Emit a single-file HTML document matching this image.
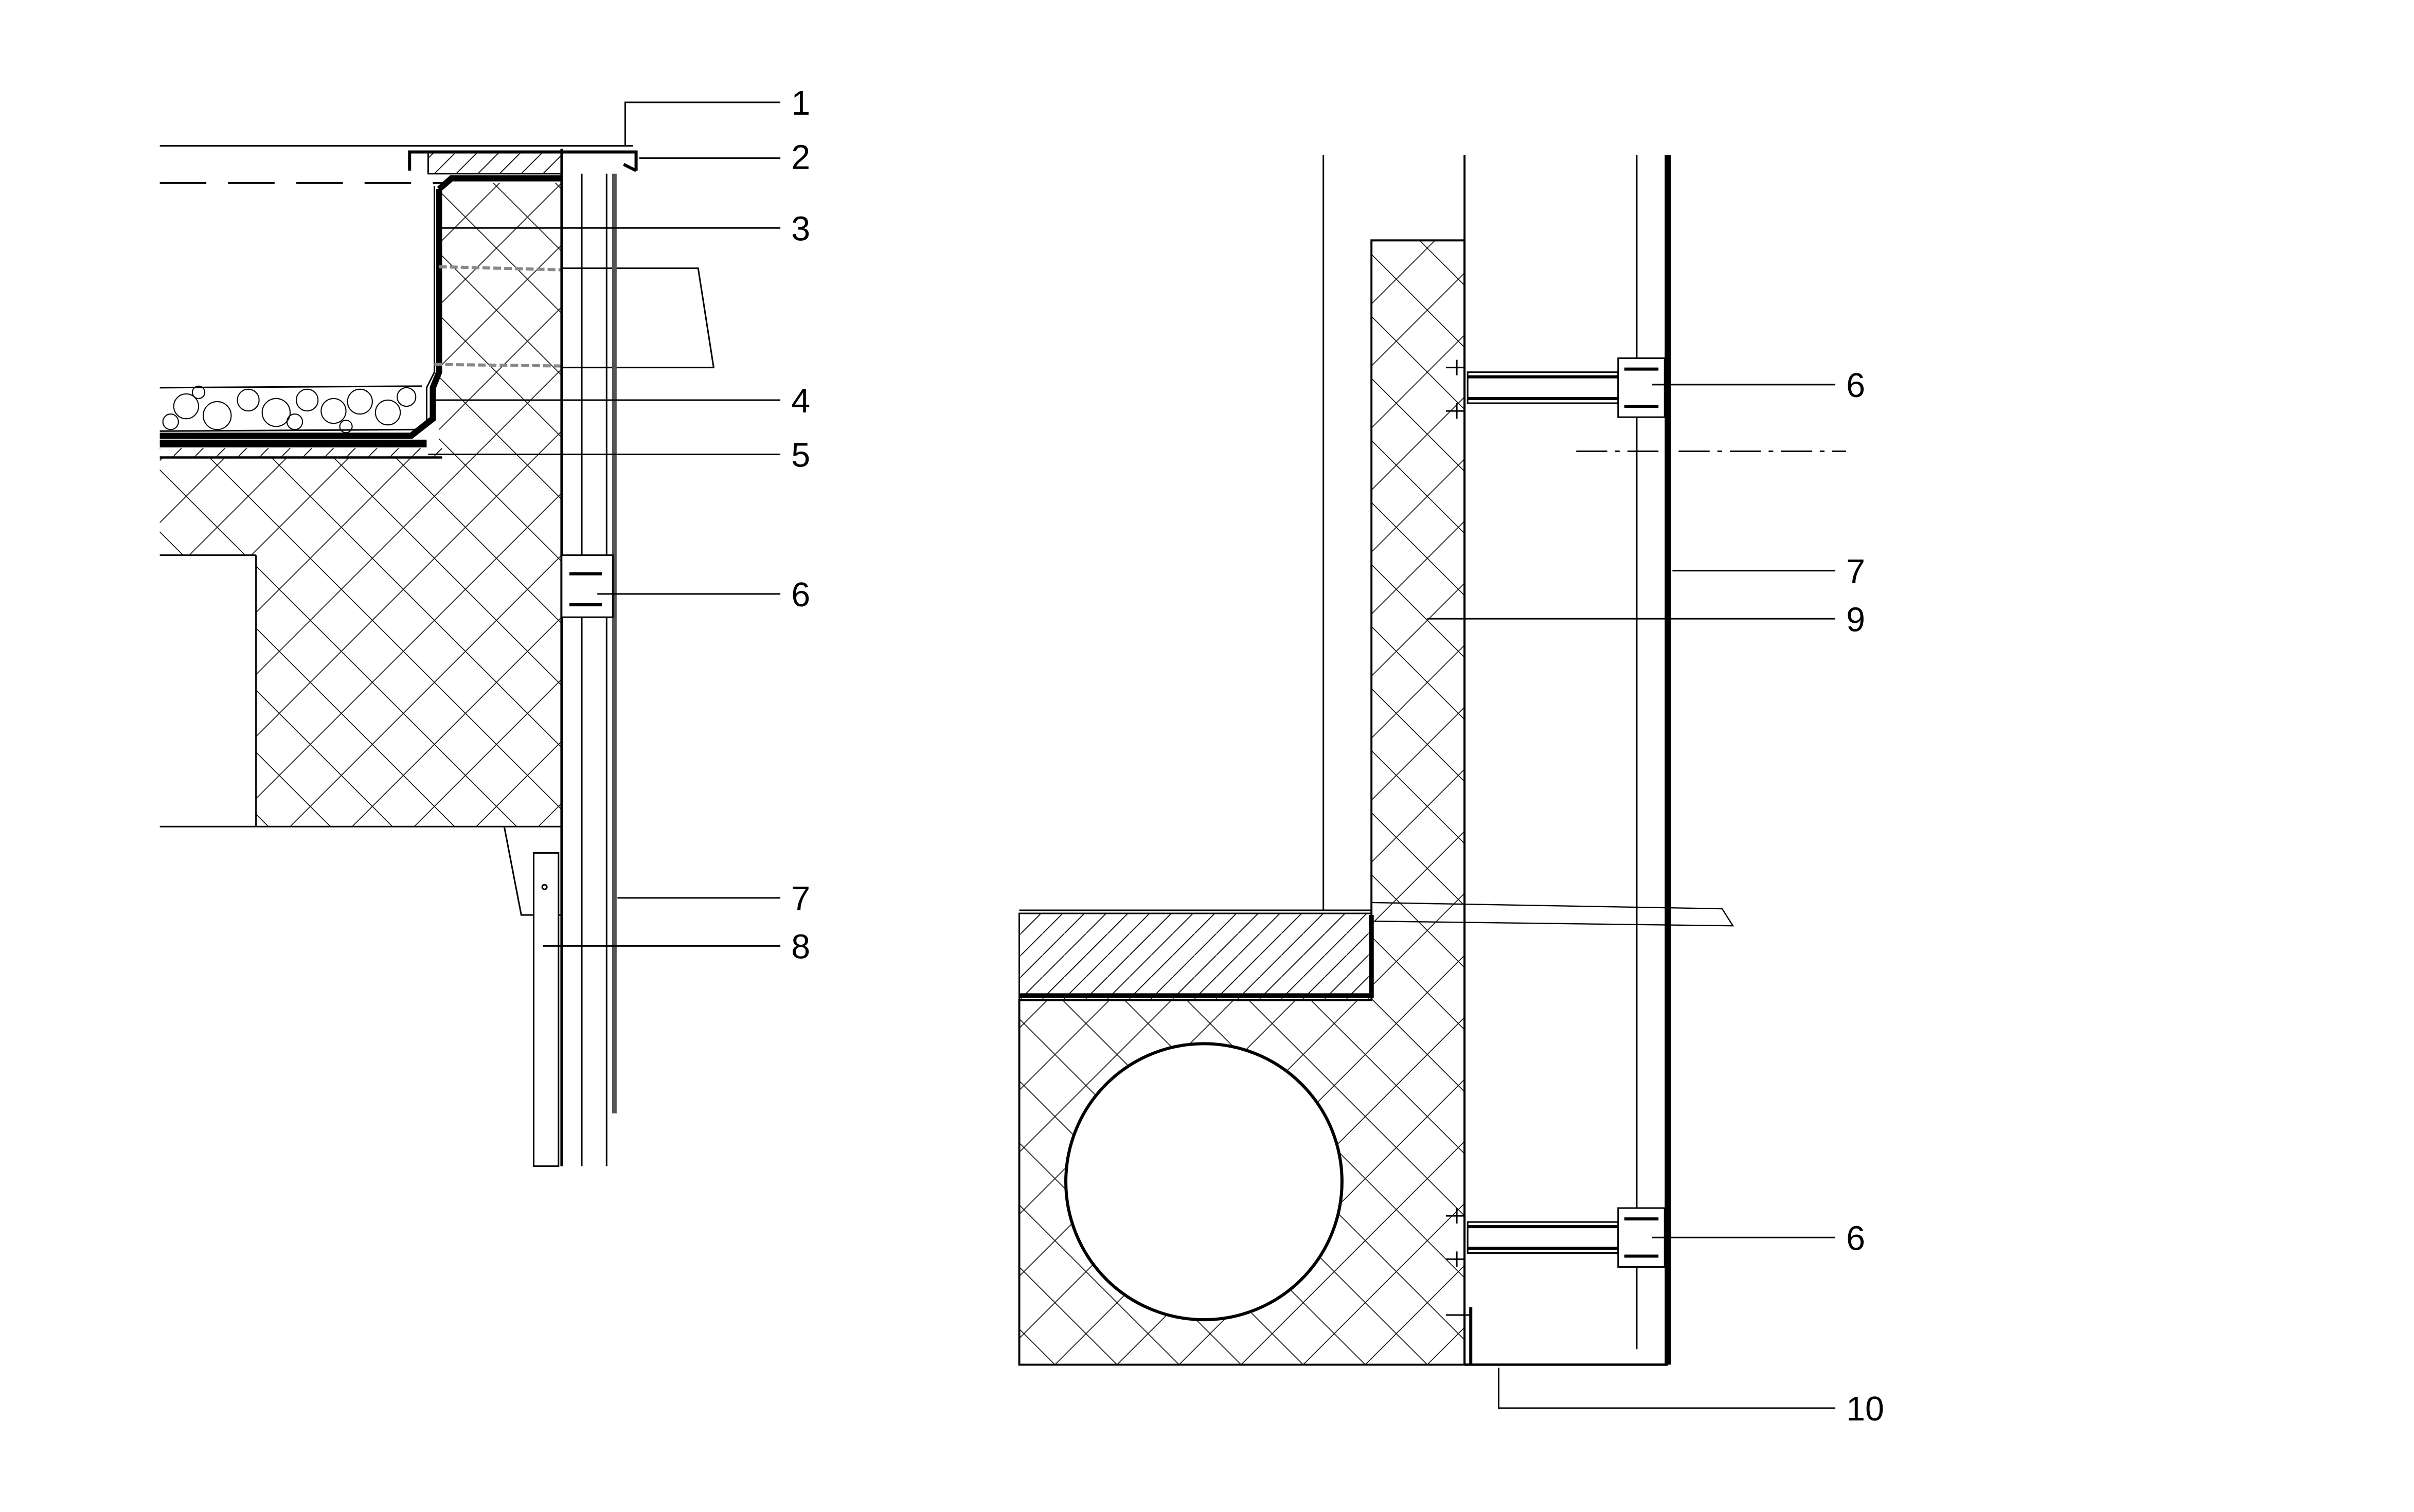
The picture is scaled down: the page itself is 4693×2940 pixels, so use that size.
<!DOCTYPE html>
<html><head><meta charset="utf-8"><style>
html,body{margin:0;padding:0;background:#fff;}
svg{display:block;}
text{font-family:"Liberation Sans Narrow","Liberation Sans",sans-serif;font-size:22px;fill:#000;}
</style></head><body>
<svg width="4693" height="2940" viewBox="0 0 1556 975" preserveAspectRatio="none" xmlns="http://www.w3.org/2000/svg">
<defs>
<pattern id="x" width="40" height="40" patternUnits="userSpaceOnUse">
<path d="M0 0L40 40M40 0L0 40" stroke="#000" stroke-width="0.5" fill="none"/>
</pattern>
<pattern id="d" width="14" height="14" patternUnits="userSpaceOnUse">
<path d="M0 14L14 0" stroke="#000" stroke-width="0.6"/>
</pattern>
</defs>
<rect width="1556" height="975" fill="#fff"/>
<g stroke="#000" fill="none" stroke-width="1">
<!-- LEFT -->
<line x1="103" y1="94" x2="408" y2="94"/>
<line x1="103" y1="118" x2="285" y2="118" stroke-dasharray="30,14" stroke-width="1.3"/>
<path d="M103 295H362V533H165V358H103Z" fill="url(#x)" stroke="none"/>
<path d="M283 118H362V295H283Z" fill="url(#x)" stroke="none"/>
<line x1="103" y1="295" x2="285" y2="295" stroke-width="1.5"/>
<line x1="103" y1="358" x2="165" y2="358"/>
<line x1="165" y1="358" x2="165" y2="533"/>
<line x1="103" y1="533" x2="362" y2="533"/>
<rect x="103" y="289" width="182" height="6" fill="url(#d)" stroke="none"/>
<rect x="276" y="98" width="86" height="14" fill="url(#d)"/>
<path d="M264 110V98H410V110M402 106L410 110" stroke-width="2"/>
<path d="M283 122L291 115H362" stroke-width="4"/>
<path d="M283 122V240L279 250V270L265 281H103" stroke-width="4"/>
<path d="M280 120V240L275 250V275L263 282" stroke-width="1"/>
<line x1="103" y1="250" x2="272" y2="249"/>
<line x1="103" y1="278" x2="268" y2="277"/>
<g stroke-width="0.7">
<circle cx="120" cy="262" r="8"/><circle cx="140" cy="268" r="9"/><circle cx="160" cy="258" r="7"/><circle cx="178" cy="266" r="9"/><circle cx="198" cy="258" r="7"/><circle cx="215" cy="265" r="8"/><circle cx="232" cy="259" r="8"/><circle cx="250" cy="266" r="8"/><circle cx="262" cy="256" r="6"/><circle cx="110" cy="272" r="5"/><circle cx="128" cy="253" r="4"/><circle cx="190" cy="272" r="5"/><circle cx="223" cy="275" r="4"/>
</g>
<line x1="103" y1="286" x2="275" y2="286" stroke-width="5"/>
<line x1="283" y1="172" x2="362" y2="174" stroke="#888" stroke-width="2" stroke-dasharray="5,2"/>
<line x1="280" y1="235" x2="362" y2="236" stroke="#888" stroke-width="2" stroke-dasharray="5,2"/>
<path d="M362 173H450L460 237H362"/>
<line x1="362" y1="96" x2="362" y2="752" stroke-width="1.6"/>
<line x1="375" y1="112" x2="375" y2="752"/>
<line x1="391" y1="112" x2="391" y2="752"/>
<line x1="396" y1="112" x2="396" y2="718" stroke="#555" stroke-width="3"/>
<rect x="362" y="358" width="33" height="40" fill="#fff"/>
<line x1="367" y1="370" x2="388" y2="370" stroke-width="2"/>
<line x1="367" y1="390" x2="388" y2="390" stroke-width="2"/>
<path d="M325 533L336 590H362"/>
<rect x="344" y="550" width="16" height="202" fill="#fff"/>
<circle cx="351" cy="572" r="1.5"/>
<path d="M403 94V66H503"/>
<line x1="412" y1="102" x2="503" y2="102"/>
<line x1="283" y1="147" x2="503" y2="147"/>
<line x1="280" y1="258" x2="503" y2="258"/>
<line x1="276" y1="293" x2="503" y2="293"/>
<line x1="385" y1="383" x2="503" y2="383"/>
<line x1="398" y1="579" x2="503" y2="579"/>
<line x1="350" y1="610" x2="503" y2="610"/>
<!-- RIGHT -->
<line x1="853" y1="100" x2="853" y2="587"/>
<path d="M884 155H944V880H657V645H884Z" fill="url(#x)" stroke-width="1.3"/>
<rect x="657" y="589" width="227" height="56" fill="url(#d)"/>
<line x1="657" y1="587" x2="884" y2="587"/>
<path d="M657 642H884V590" stroke-width="3"/>
<circle cx="776" cy="762" r="89" fill="#fff" stroke-width="2"/>
<line x1="944" y1="100" x2="944" y2="880" stroke-width="1.3"/>
<line x1="1055" y1="100" x2="1055" y2="870"/>
<line x1="1075" y1="100" x2="1075" y2="880" stroke-width="4"/>
<path d="M944 880H1075" stroke-width="1.5"/>
<path d="M884 582L1110 586L1117 597L884 594" stroke-width="0.8"/>
<line x1="1016" y1="291" x2="1190" y2="291" stroke-dasharray="20,5,3,5"/>
<g>
<rect x="946" y="240" width="97" height="20" fill="#fff"/>
<line x1="946" y1="243" x2="1043" y2="243" stroke-width="2"/>
<line x1="946" y1="257" x2="1043" y2="257" stroke-width="2"/>
<rect x="1043" y="231" width="30" height="38" fill="#fff"/>
<line x1="1047" y1="238" x2="1069" y2="238" stroke-width="2"/>
<line x1="1047" y1="262" x2="1069" y2="262" stroke-width="2"/>
<path d="M932 237H944M932 265H944M939 232V242M939 260V270"/>
<rect x="946" y="788" width="97" height="20" fill="#fff"/>
<line x1="946" y1="791" x2="1043" y2="791" stroke-width="2"/>
<line x1="946" y1="805" x2="1043" y2="805" stroke-width="2"/>
<rect x="1043" y="779" width="30" height="38" fill="#fff"/>
<line x1="1047" y1="786" x2="1069" y2="786" stroke-width="2"/>
<line x1="1047" y1="810" x2="1069" y2="810" stroke-width="2"/>
<path d="M932 784H944M932 812H944M932 848H948M939 779V789M939 807V817"/>
<line x1="948" y1="843" x2="948" y2="880" stroke-width="2"/>
</g>
<line x1="1065" y1="248" x2="1183" y2="248"/>
<line x1="1078" y1="368" x2="1183" y2="368"/>
<line x1="920" y1="399" x2="1183" y2="399"/>
<line x1="1065" y1="798" x2="1183" y2="798"/>
<path d="M966 882V908H1183"/>
</g>
<g>
<text x="510" y="74">1</text><text x="510" y="109">2</text><text x="510" y="155">3</text>
<text x="510" y="266">4</text><text x="510" y="301">5</text><text x="510" y="391">6</text>
<text x="510" y="587">7</text><text x="510" y="618">8</text>
<text x="1190" y="256">6</text><text x="1190" y="376">7</text><text x="1190" y="407">9</text>
<text x="1190" y="806">6</text><text x="1190" y="916">10</text>
</g>
</svg>
</body></html>
